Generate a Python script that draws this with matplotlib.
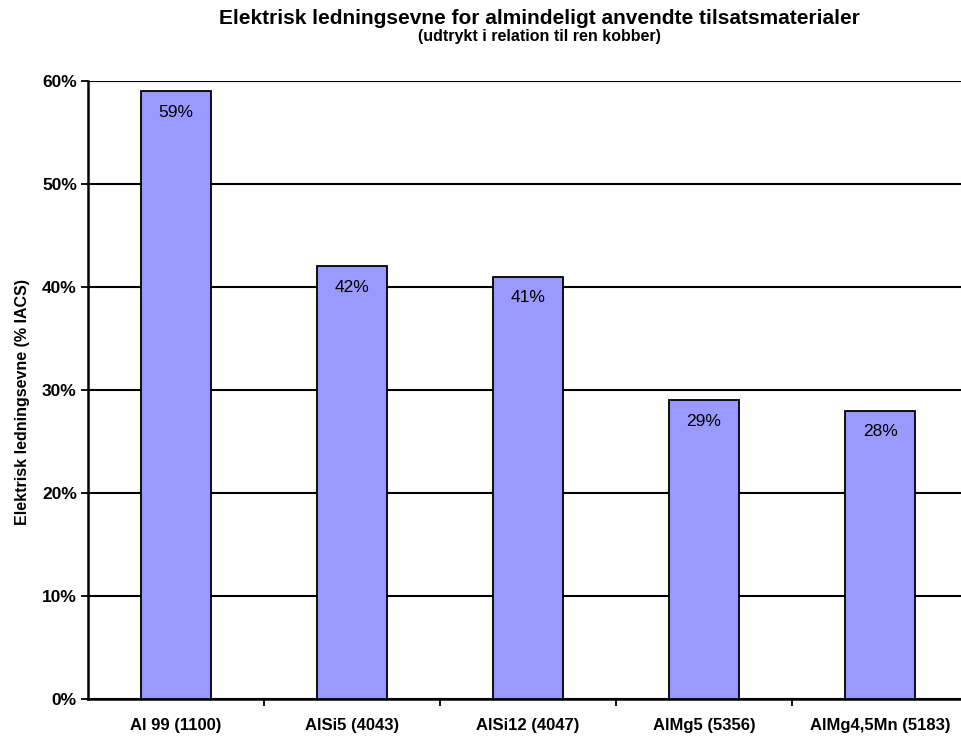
import matplotlib
matplotlib.use('Agg')
import matplotlib.pyplot as plt
from matplotlib.ticker import FuncFormatter

materialer = ["Al 99 (1100)", "AlSi5 (4043)", "AlSi12 (4047)", "AlMg5 (5356)", "AlMg4,5Mn (5183)"]
ledningsevne = [59, 42, 41, 29, 28]
yticks = [0, 10, 20, 30, 40, 50, 60]

plt.rcParams['font.family'] = ['Liberation Sans', 'DejaVu Sans']

fig = plt.figure(figsize=(9.62, 7.38), dpi=100)
W, H = 962, 738
ax = fig.add_axes([88 / W, (H - 699) / H, 880 / W, 618 / H])

x = range(len(materialer))
bars = ax.bar(x, ledningsevne, width=0.4, color='#9999FF', edgecolor='black', linewidth=1.3, zorder=3)

# procent-tal inde i toppen af hver soejle
for i, v in enumerate(ledningsevne):
    ax.annotate(f"{v}%", (i, v), xytext=(0, -15), textcoords='offset points',
                ha='center', va='center', fontsize=12.5, zorder=4)

ax.set_xlim(-0.5, len(materialer) - 0.5)
ax.set_ylim(0, 60)
ax.set_yticks(yticks)
ax.yaxis.set_major_formatter(FuncFormatter(lambda v, p: f"{int(v)}%"))
ax.grid(axis='y', color='black', linewidth=1.5, zorder=0)

ax.set_xticks(x)
ax.set_xticklabels(materialer, fontweight='bold', fontsize=12)
ax.set_xticks([i + 0.5 for i in range(len(materialer) - 1)], minor=True)
ax.tick_params(axis='x', which='major', length=0, pad=14)
ax.tick_params(axis='x', which='minor', length=5, width=1.3, direction='out')
ax.tick_params(axis='y', length=5, width=1.3, direction='out', labelsize=12.5, pad=3)
for lab in ax.get_yticklabels():
    lab.set_fontweight('bold')

for s in ['top', 'right']:
    ax.spines[s].set_visible(False)
ax.spines['left'].set_linewidth(1.8)
ax.spines['bottom'].set_linewidth(1.8)

ax.set_ylabel("Elektrisk ledningsevne (% IACS)", fontweight='bold', fontsize=11.5)
ax.yaxis.set_label_coords(-0.066, 0.48)

fig.text(539 / W, 1 - 18 / H, "Elektrisk ledningsevne for almindeligt anvendte tilsatsmaterialer",
         ha='center', va='center', fontsize=15, fontweight='bold')
fig.text(539 / W, 1 - 37 / H, "(udtrykt i relation til ren kobber)",
         ha='center', va='center', fontsize=11.5, fontweight='bold')

fig.savefig('out.png', dpi=100)
